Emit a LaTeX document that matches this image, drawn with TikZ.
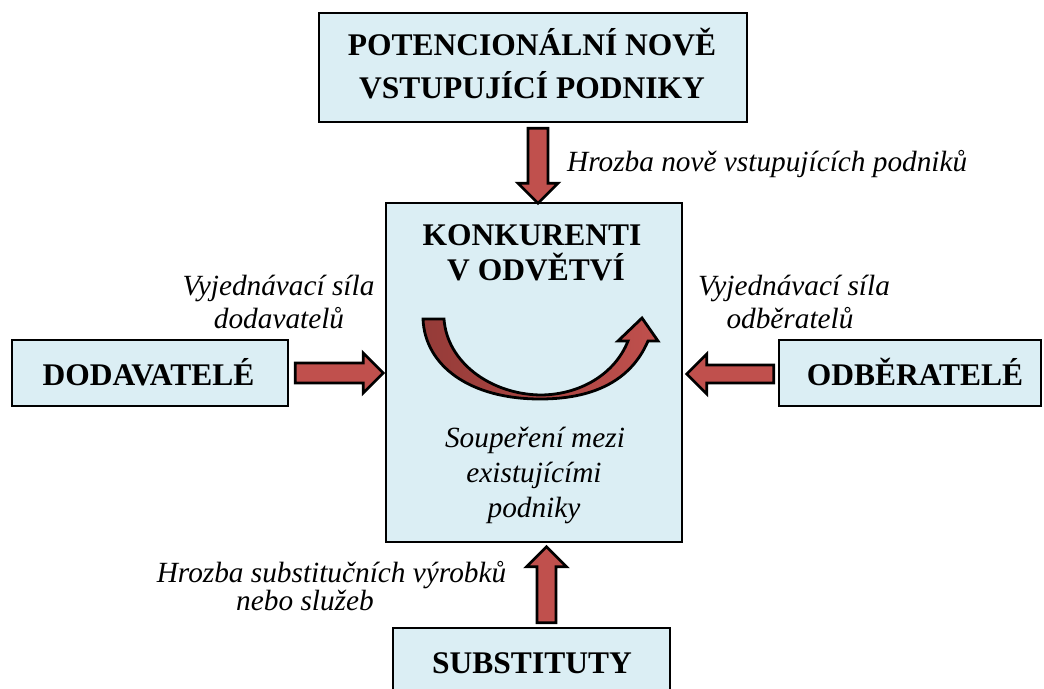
\documentclass[tikz,border=0pt]{standalone}
\usepackage{fontspec}
\setmainfont{Liberation Serif}
\usetikzlibrary{calc}
\definecolor{boxfill}{HTML}{DBEEF4}
\definecolor{arrowred}{HTML}{C0504D}
\definecolor{arrowdark}{HTML}{953B38}
\tikzset{
  forcebox/.style={draw=black, fill=boxfill, line width=2.5pt, rectangle, inner sep=0pt},
  boldline/.style={font=\bfseries\fontsize{31.5}{35}\selectfont, inner sep=0pt, anchor=base},
  itline/.style={font=\itshape\fontsize{29.3}{33}\selectfont, inner sep=0pt, anchor=base},
  arrowbody/.style={draw=black, fill=arrowred, line width=2.8pt, line join=miter},
  % block arrow pointing along local x: {length}{shaft half width}
  pics/blockarrow/.style n args={2}{code={
    \draw[arrowbody] (0,-#2) -- ({#1-20},-#2) -- ({#1-20},-20) -- (#1,0)
      -- ({#1-20},20) -- ({#1-20},#2) -- (0,#2) -- cycle;
  }}
}
\begin{document}
\begin{tikzpicture}[x=1pt, y=-1pt]
\clip (0,0) rectangle (1044,688);
\fill[white] (0,0) rectangle (1044,688);

% the five forces
\node[forcebox, minimum width=428pt, minimum height=109pt] (entrants) at (533,67.5) {};
\node[forcebox, minimum width=296pt, minimum height=339pt] (rivals) at (534,372.5) {};
\node[forcebox, minimum width=276pt, minimum height=66pt] (suppliers) at (150,373) {};
\node[forcebox, minimum width=262pt, minimum height=66pt] (buyers) at (910,373) {};
\node[forcebox, minimum width=277pt, minimum height=67pt] (substitutes) at (531.5,661.5) {};

% box titles
\node[boldline] (entrantsA) at (532,55) {POTENCIONÁLNÍ NOVĚ};
\node[boldline] (entrantsB) at (532,98) {VSTUPUJÍCÍ PODNIKY};
\node[boldline] (rivalsA) at (532,245) {KONKURENTI};
\node[boldline] (rivalsB) at (536,280) {V ODVĚTVÍ};
\node[boldline] (suppliersA) at (148.5,385) {DODAVATELÉ};
\node[boldline] (buyersA) at (915,385) {ODBĚRATELÉ};
\node[boldline] (substitutesA) at (532,673) {SUBSTITUTY};

% rivalry text
\node[itline] (rivalryA) at (535,447) {Soupeření mezi};
\node[itline] (rivalryB) at (534,482) {existujícími};
\node[itline] (rivalryC) at (534,517) {podniky};

% force labels
\node[itline, anchor=base west] (threatNew) at (567,171) {Hrozba nově vstupujících podniků};
\node[itline] (supPowA) at (278.5,295) {Vyjednávací síla};
\node[itline] (supPowB) at (279,328) {dodavatelů};
\node[itline] (buyPowA) at (794,295) {Vyjednávací síla};
\node[itline] (buyPowB) at (790,328) {odběratelů};
\node[itline] (threatSubA) at (331.5,582) {Hrozba substitučních výrobků};
\node[itline] (threatSubB) at (305,610) {nebo služeb};

% block arrows between the boxes
\pic[rotate=-90] at ($(entrants.south)+(5,5)$) {blockarrow={75}{10}};
\pic at ($(suppliers.east)+(6,0)$) {blockarrow={88}{10}};
\pic[rotate=180] at ($(buyers.west)+(-4,1)$) {blockarrow={87}{9}};
\pic[rotate=90] at ($(substitutes.north)+(15,-4)$) {blockarrow={76}{9.5}};

% curved rivalry arrow
\draw[line width=2.8pt, line join=miter, left color=arrowdark, right color=arrowred]
  (423,319) -- (444,319)
  .. controls (447,362) and (490,394) .. (540,395)
  .. controls (580,395) and (615,374) .. (628,341)
  -- (618,341) -- (642,318) -- (658,341) -- (648,341)
  .. controls (630,383) and (590,399) .. (540,399)
  .. controls (470,399) and (425,366) .. (423,319) -- cycle;
\end{tikzpicture}
\end{document}
